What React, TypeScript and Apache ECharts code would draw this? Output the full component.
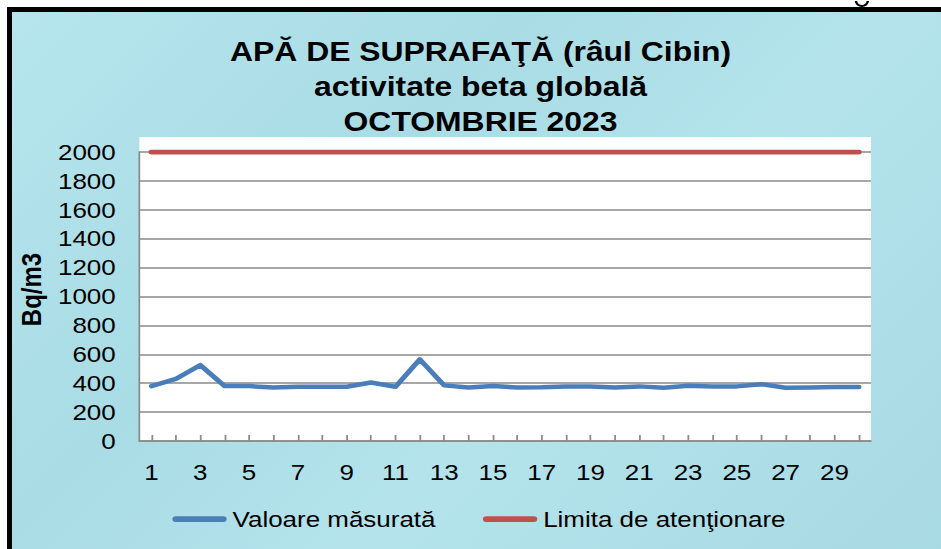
import React, { useEffect, useRef } from "react";
import * as echarts from "echarts";

const days: string[] = [
  "1","2","3","4","5","6","7","8","9","10",
  "11","12","13","14","15","16","17","18","19","20",
  "21","22","23","24","25","26","27","28","29","30",
];
const measured: number[] = [
  380, 430, 525, 380, 380, 370, 375, 375, 375, 405,
  375, 565, 385, 370, 380, 370, 372, 378, 378, 370,
  378, 368, 383, 378, 378, 393, 368, 370, 374, 374,
];
const limit: number[] = days.map(() => 2000);
const titleLines: string[] = [
  "APĂ DE SUPRAFAŢĂ (râul Cibin)",
  "activitate beta globală",
  "OCTOMBRIE 2023",
];
const seriesNames: string[] = ["Valoare măsurată", "Limita de atenţionare"];
const yName = "Bq/m3";

const W = 797; // inner width before horizontal stretch
const H = 549;
const SX = 941 / W;
const FONT = "'Liberation Sans', Arial, Helvetica, sans-serif";

export default function App() {
  const ref = useRef<HTMLDivElement>(null);

  useEffect(() => {
    if (!ref.current) return;
    const chart = echarts.init(ref.current, undefined, { renderer: "svg", width: W, height: H });
    const gridLeft = 118;
    const gridRight = W - 737.7;
    const gridTop = 152;
    const gridBottom = H - 441;
    const option: any = {
      animation: false,
      backgroundColor: "transparent",
      textStyle: { fontFamily: FONT, color: "#000" },
      graphic: [
        {
          type: "rect",
          z: -10,
          shape: { x: gridLeft, y: 137, width: W - gridLeft - gridRight, height: 441 - 137 },
          style: { fill: "#ffffff" },
        },
        {
          type: "text",
          z: 10,
          x: 407,
          y: 34,
          style: {
            text: titleLines.join("\n"),
            fill: "#000",
            font: `bold 27px ${FONT}`,
            fontSize: 27,
            fontWeight: "bold",
            fontFamily: FONT,
            lineHeight: 35,
            align: "center",
            textAlign: "center",
            verticalAlign: "top",
            textVerticalAlign: "top",
          },
        },
        {
          type: "arc",
          z: 10,
          shape: { cx: 730, cy: 1, r: 5, startAngle: 0, endAngle: Math.PI },
          style: { stroke: "#000", lineWidth: 2, fill: "none" },
        },
      ],
      legend: {
        left: 141,
        top: 503,
        itemWidth: 46,
        itemHeight: 6,
        itemGap: 40,
        icon: "path://M3 0H45A3 3 0 0 1 45 6H3A3 3 0 0 1 3 0Z",
        textStyle: { fontSize: 22, color: "#000", fontFamily: FONT },
        data: seriesNames,
      },
      grid: { left: gridLeft, right: gridRight, top: gridTop, bottom: gridBottom },
      xAxis: {
        type: "category",
        data: days,
        boundaryGap: true,
        axisLine: { show: true, lineStyle: { color: "#8a8a8a", width: 1.5 } },
        axisTick: { show: true, inside: true, length: 6, alignWithLabel: true, interval: 0, lineStyle: { color: "#8a8a8a", width: 1.5 } },
        axisLabel: { interval: 1, fontSize: 22, color: "#000", margin: 20, fontFamily: FONT },
        splitLine: { show: false },
      },
      yAxis: {
        type: "value",
        min: 0,
        max: 2000,
        interval: 200,
        name: yName,
        nameLocation: "middle",
        nameGap: 69,
        nameTextStyle: { fontSize: 24, fontWeight: "bold", color: "#000", fontFamily: FONT, padding: [0, 0, 0, 14] },
        axisLine: { show: true, lineStyle: { color: "#8a8a8a", width: 1.5 } },
        axisTick: { show: false },
        axisLabel: { fontSize: 22, color: "#000", margin: 20, fontFamily: FONT, formatter: (v: number) => String(v) },
        splitLine: { show: true, lineStyle: { color: "#8a8a8a", width: 1.5 } },
      },
      series: [
        {
          name: seriesNames[0],
          type: "line",
          data: measured,
          symbol: "none",
          lineStyle: { color: "#4a7ebb", width: 4.5, cap: "round", join: "round" },
          itemStyle: { color: "#4a7ebb" },
          z: 3,
        },
        {
          name: seriesNames[1],
          type: "line",
          data: limit,
          symbol: "none",
          lineStyle: { color: "#c0504d", width: 5, cap: "round", join: "round" },
          itemStyle: { color: "#c0504d" },
          z: 3,
        },
      ],
    };
    chart.setOption(option);
    return () => chart.dispose();
  }, []);

  return (
    <div style={{ position: "fixed", left: 0, top: 0, width: 941, height: 549, background: "#ffffff", overflow: "hidden" }}>
      <div
        style={{
          position: "absolute",
          left: 7,
          top: 7,
          width: 934,
          height: 542,
          boxSizing: "border-box",
          borderTop: "5px solid #000",
          borderLeft: "5px solid #000",
          background: "linear-gradient(135deg, #b6e5ed 0%, #a9dce5 35%, #b4e3eb 60%, #a8dae3 100%)",
        }}
      />
      <div
        ref={ref}
        style={{
          position: "absolute",
          left: 0,
          top: 0,
          width: W,
          height: H,
          transform: `scaleX(${SX})`,
          transformOrigin: "0 0",
        }}
      />
    </div>
  );
}
